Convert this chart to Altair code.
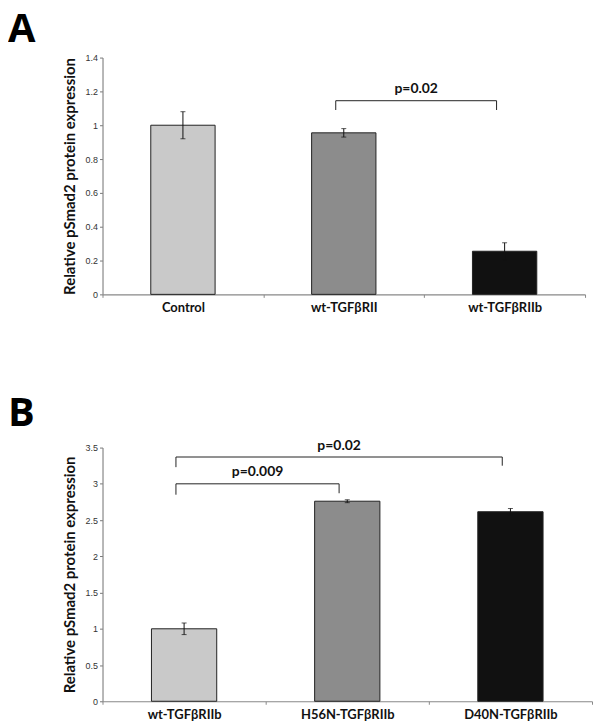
import altair as alt
import pandas as pd

# ---- Panel A data ----
a_groups = ["Control", "wt-TGFβRII", "wt-TGFβRIIb"]
a_values = [1.0, 0.955, 0.255]
a_errors = [0.08, 0.025, 0.05]
a_colors = ["#c9c9c9", "#8c8c8c", "#111111"]
a_ticks = [0, 0.2, 0.4, 0.6, 0.8, 1.0, 1.2, 1.4]

# brackets: from, to, bar height, left-foot, right-foot, label
a_br_from = ["wt-TGFβRII"]
a_br_to = ["wt-TGFβRIIb"]
a_br_y = [1.145]
a_br_foot1 = [1.09]
a_br_foot2 = [1.09]
a_br_label = ["p=0.02"]
a_br_label_y = [1.175]
a_br_label_at = ["wt-TGFβRII"]
a_br_label_pos = [0.95]

# ---- Panel B data ----
b_groups = ["wt-TGFβRIIb", "H56N-TGFβRIIb", "D40N-TGFβRIIb"]
b_values = [1.0, 2.76, 2.615]
b_errors = [0.08, 0.02, 0.045]
b_colors = ["#c9c9c9", "#8c8c8c", "#111111"]
b_ticks = [0, 0.5, 1.0, 1.5, 2.0, 2.5, 3.0, 3.5]

b_br_from = ["wt-TGFβRIIb", "wt-TGFβRIIb"]
b_br_to = ["H56N-TGFβRIIb", "D40N-TGFβRIIb"]
b_br_y = [3.0, 3.37]
b_br_foot1 = [2.85, 3.23]
b_br_foot2 = [2.87, 3.25]
b_br_label = ["p=0.009", "p=0.02"]
b_br_label_y = [3.07, 3.43]
b_br_label_at = ["wt-TGFβRIIb", "H56N-TGFβRIIb"]
b_br_label_pos = [0.95, 0.45]

Y_TITLE = "Relative pSmad2 protein expression"
FONT = "Lato"
TICKFONT = "Liberation Sans"


def panel(letter, groups, values, errors, colors, br_from, br_to, br_y, f1, f2,
          labels, label_y, label_at, label_pos, ymax, yticks, width, height,
          letter_y):
    df = pd.DataFrame({
        "g": groups,
        "v": values,
        "lo": [v - e for v, e in zip(values, errors)],
        "hi": [v + e for v, e in zip(values, errors)],
    })
    xs = alt.Scale(domain=groups, paddingInner=0, paddingOuter=0)
    ys = alt.Scale(domain=[0, ymax], nice=False, zero=True)
    xaxis = alt.Axis(title=None, labelAngle=0, labelFont=FONT,
                     labelFontWeight="bold", labelFontSize=13,
                     labelColor="#111", labelPadding=4,
                     tickBand="extent", tickSize=3,
                     tickColor="#888", domainColor="#888", domainWidth=1.2)
    yaxis = alt.Axis(title=Y_TITLE, values=[float(t) for t in yticks],
                     tickCount=len(yticks) + 4,
                     format="~g", labelOverlap=False,
                     grid=False, titleFont=FONT, titleFontSize=15,
                     titleFontWeight="bold", titleColor="#111",
                     titlePadding=8, labelFont=TICKFONT,
                     labelFontSize=9, labelColor="#333",
                     labelPadding=2, tickSize=3, tickColor="#777",
                     domainColor="#888", domainWidth=1.2)

    def X(field, bp=0.5):
        return alt.X(field, scale=xs, sort=groups, axis=xaxis, bandPosition=bp)

    def Y(field):
        return alt.Y(field, scale=ys, axis=yaxis)

    bars = alt.Chart(df).mark_bar(
        width=alt.RelativeBandSize(0.4), stroke="#222", strokeWidth=1
    ).encode(
        x=X("g:N"), y=Y("v:Q"),
        color=alt.Color("g:N", scale=alt.Scale(domain=groups, range=colors),
                        legend=None),
    )
    err = alt.Chart(df).mark_rule(color="#111", strokeWidth=1).encode(
        x=X("g:N"), y=Y("lo:Q"), y2="hi:Q")
    cap_lo = alt.Chart(df).mark_tick(color="#111", size=5, thickness=1,
                                     orient="horizontal").encode(
        x=X("g:N"), y=Y("lo:Q"))
    cap_hi = alt.Chart(df).mark_tick(color="#111", size=5, thickness=1,
                                     orient="horizontal").encode(
        x=X("g:N"), y=Y("hi:Q"))

    bdf = pd.DataFrame({"a": br_from, "b": br_to, "y": br_y, "f1": f1,
                        "f2": f2, "lab": labels, "ly": label_y,
                        "at": label_at})
    horiz = alt.Chart(bdf).mark_rule(color="#222", strokeWidth=1).encode(
        x=X("a:N", 0.45), x2=alt.X2("b:N", bandPosition=0.45), y=Y("y:Q"))
    leg1 = alt.Chart(bdf).mark_rule(color="#222", strokeWidth=1).encode(
        x=X("a:N", 0.45), y=Y("y:Q"), y2="f1:Q")
    leg2 = alt.Chart(bdf).mark_rule(color="#222", strokeWidth=1).encode(
        x=X("b:N", 0.45), y=Y("y:Q"), y2="f2:Q")
    texts = []
    for i in range(len(bdf)):
        sub = bdf.iloc[[i]]
        texts.append(
            alt.Chart(sub).mark_text(font=FONT, fontWeight="bold", fontSize=14,
                                     color="#111", baseline="bottom").encode(
                x=X("at:N", float(label_pos[i])), y=Y("ly:Q"), text="lab:N"))
    ldf = pd.DataFrame({"t": [letter]})
    letter_mark = alt.Chart(ldf).mark_text(
        font="Open Sans", fontWeight="bold", fontSize=40, color="#000",
        align="left", baseline="alphabetic").encode(
        x=alt.value(-95), y=alt.value(letter_y), text="t:N")

    return alt.layer(bars, err, cap_lo, cap_hi, horiz, leg1, leg2, *texts,
                     letter_mark).properties(width=width, height=height)


pa = panel("A", a_groups, a_values, a_errors, a_colors, a_br_from, a_br_to,
           a_br_y, a_br_foot1, a_br_foot2, a_br_label, a_br_label_y,
           a_br_label_at, a_br_label_pos, 1.4, a_ticks, 485, 238, -16)
pb = panel("B", b_groups, b_values, b_errors, b_colors, b_br_from, b_br_to,
           b_br_y, b_br_foot1, b_br_foot2, b_br_label, b_br_label_y,
           b_br_label_at, b_br_label_pos, 3.5, b_ticks, 492, 255, -22)

chart = alt.vconcat(pa, pb, spacing=80).resolve_scale(
    x="independent", y="independent", color="independent"
).properties(padding=0).configure_view(stroke=None)

chart.save("out.html", embed_options={"renderer": "svg", "actions": False})
